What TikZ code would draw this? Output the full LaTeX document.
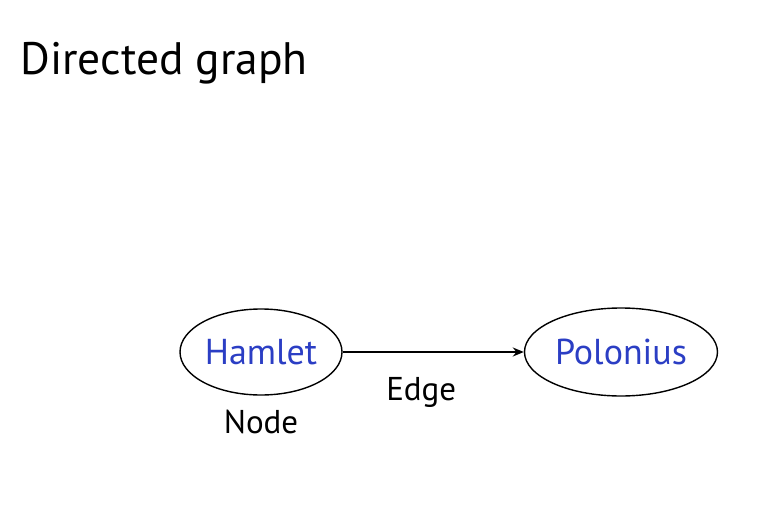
\documentclass[tikz,border=0pt]{standalone}
\usepackage{fontspec}
\setmainfont{PT Sans}
\usetikzlibrary{arrows.meta, positioning, shapes.geometric}
\definecolor{nameblue}{RGB}{43,62,196}

\begin{document}
\begin{tikzpicture}[x=1pt,y=-1pt,node distance=360pt,on grid,
    every node/.style={font=\fontsize{33}{40}\selectfont}]
  \tikzstyle{person}=[ellipse,draw=black,line width=1.4pt,text=nameblue,
    font=\fontsize{36}{42}\selectfont,inner sep=0pt]
  \useasboundingbox (0,0) rectangle (782,516);
  % Title
  \node[anchor=base west,font=\fontsize{45.5}{52}\selectfont] (title) at (17,75) {Directed graph};
  % Nodes
  \node[person, minimum width=162pt, minimum height=86pt] (hamlet) at (261,352) {Hamlet};
  \node[person, minimum width=193pt, minimum height=88pt] (polonius) [right=of hamlet] {Polonius};
  \node (nodelabel) [below=70pt of hamlet] {Node};

  \draw[-{Stealth[length=11pt,width=9pt]},line width=2pt] (hamlet) -- node[below=21pt,xshift=-12pt] (edgelabel) {Edge} (polonius);
\end{tikzpicture}
\end{document}
